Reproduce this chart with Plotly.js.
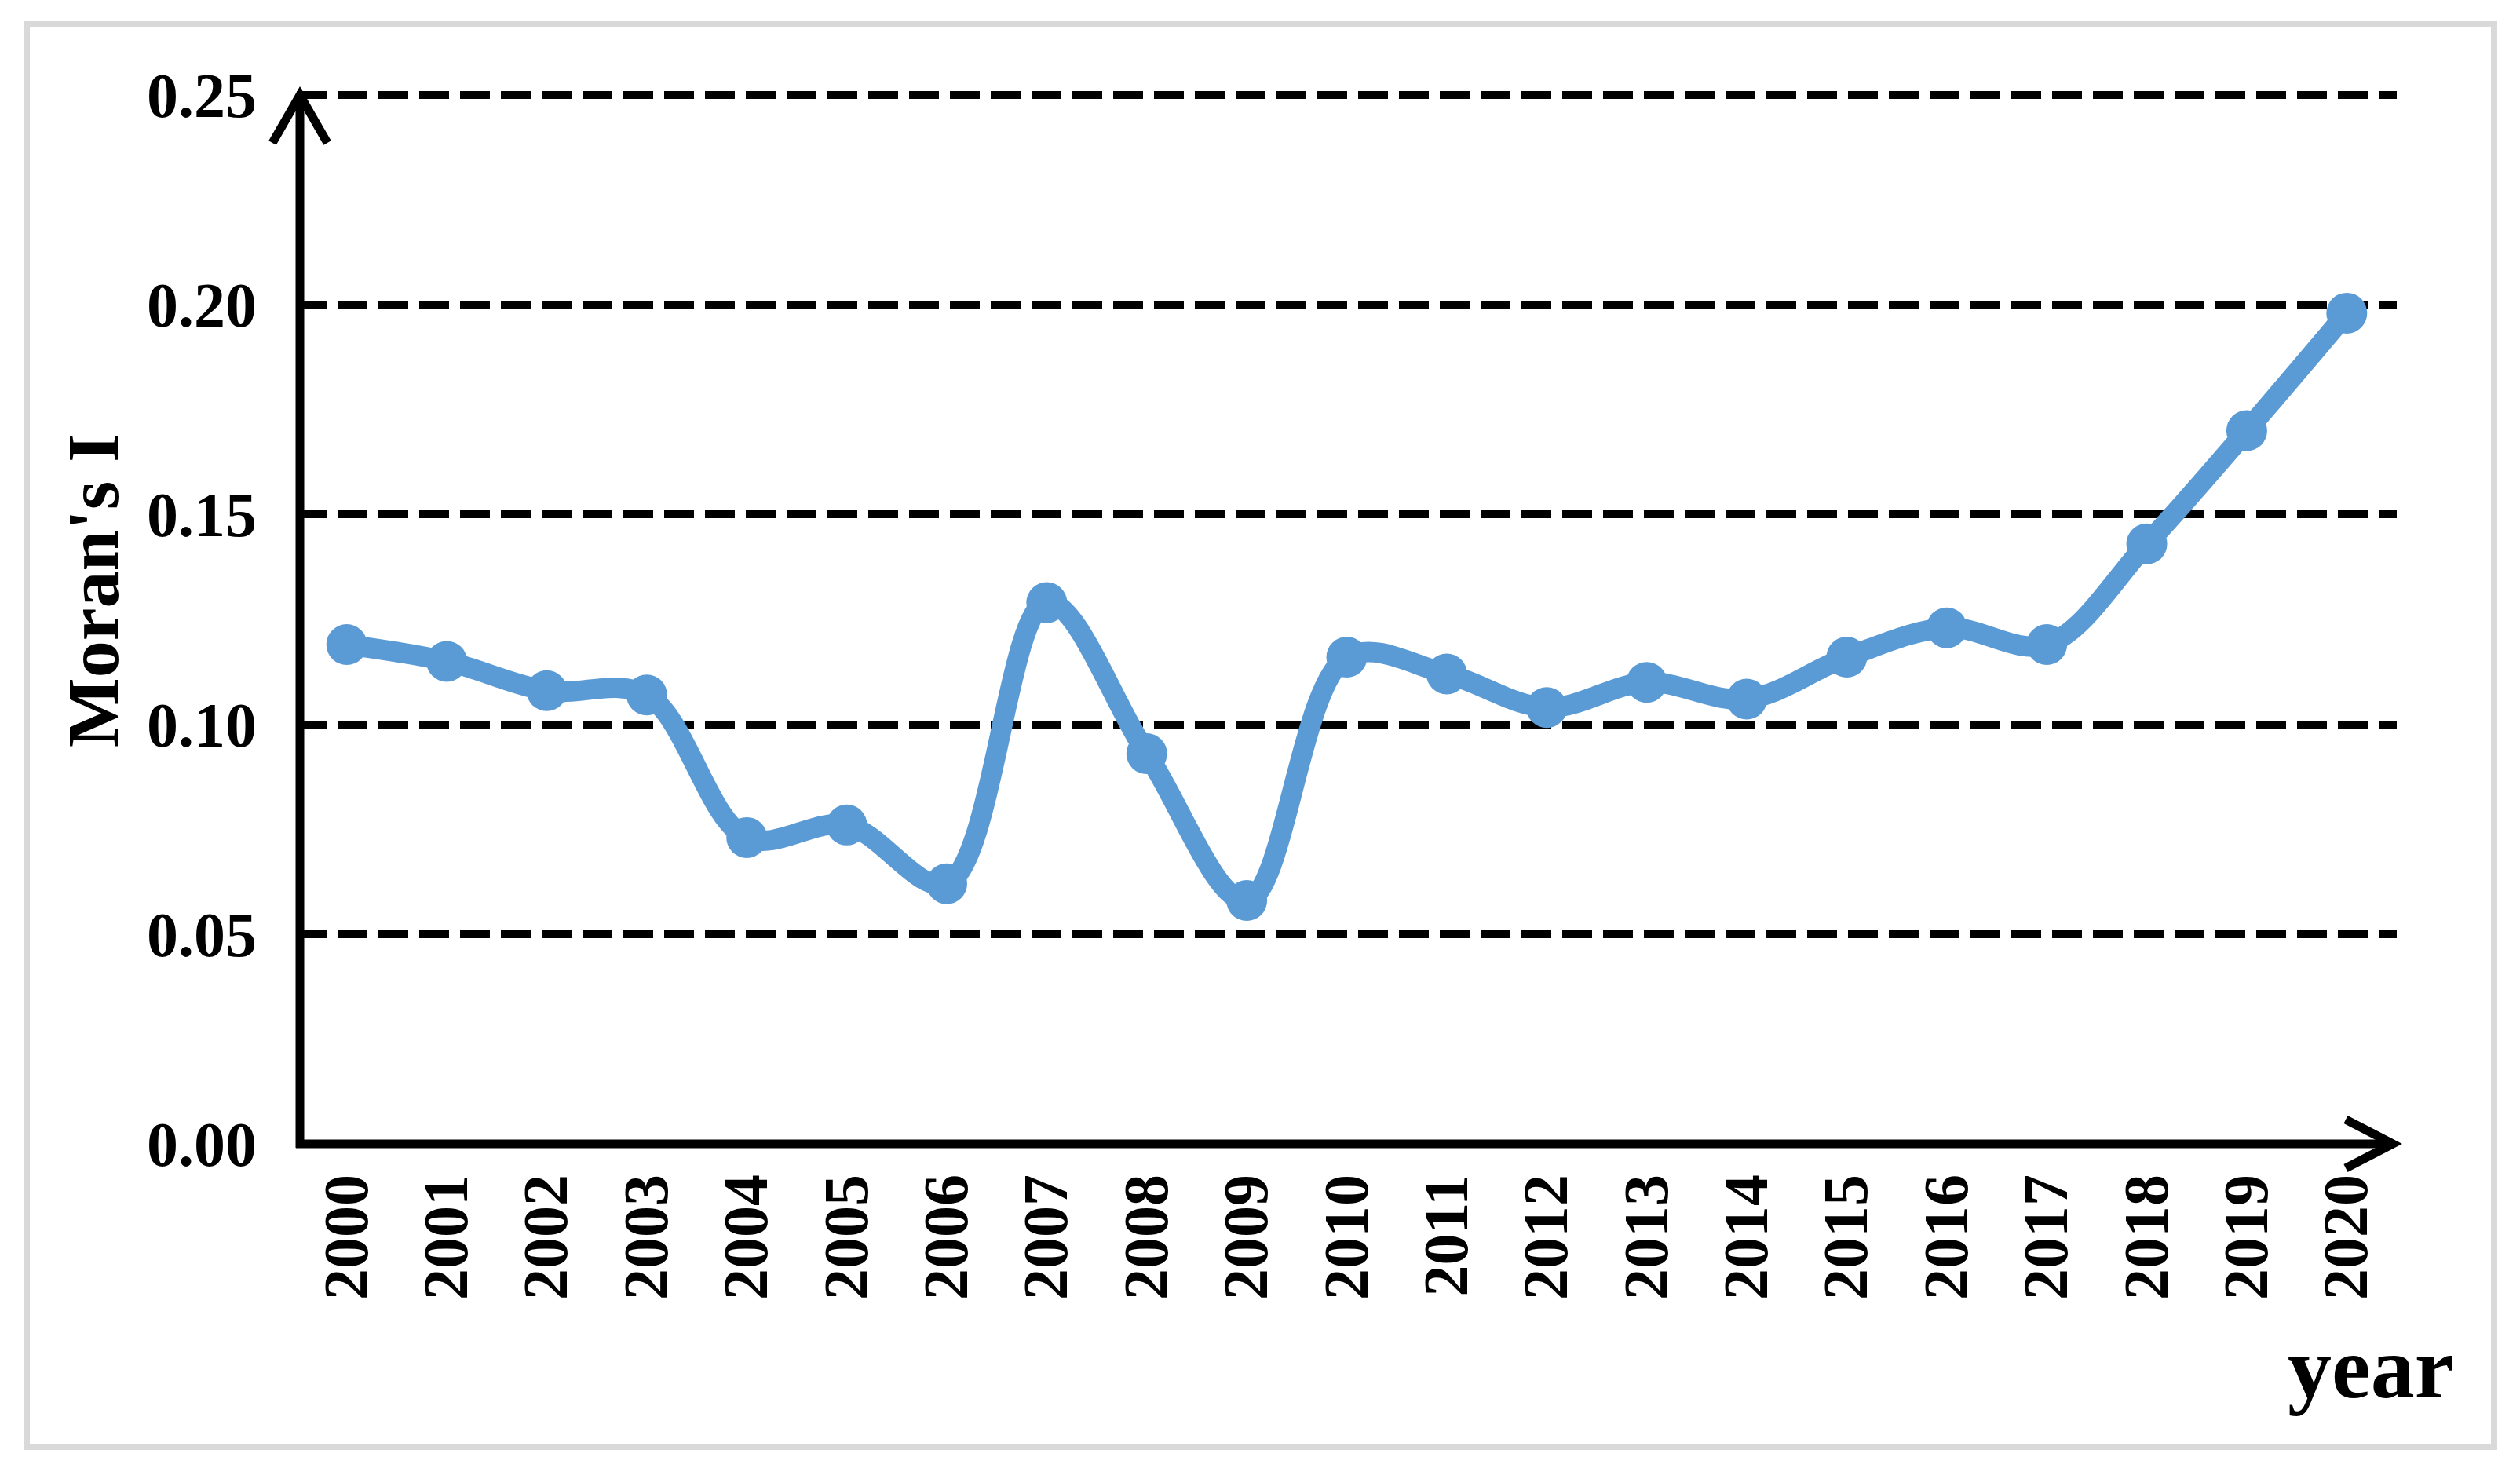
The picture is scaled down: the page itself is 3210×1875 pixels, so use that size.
<!DOCTYPE html>
<html>
<head>
<meta charset="utf-8">
<script src="https://cdn.plot.ly/plotly-3.0.1.min.js"></script>
<style>
  html, body { margin: 0; padding: 0; background: #ffffff; }
  #chart { width: 3210px; height: 1875px; }
</style>
</head>
<body>
<div id="chart"></div>
<script>
// ---- data ----
const years = ["2000","2001","2002","2003","2004","2005","2006","2007","2008","2009","2010",
               "2011","2012","2013","2014","2015","2016","2017","2018","2019","2020"];
const moransI = [0.119, 0.115, 0.108, 0.107, 0.073, 0.076, 0.062, 0.129, 0.093, 0.058, 0.116,
                 0.112, 0.104, 0.110, 0.106, 0.116, 0.123, 0.119, 0.143, 0.170, 0.198];
const yTickVals = [0, 0.05, 0.10, 0.15, 0.20, 0.25];
const yTickText = ["0.00", "0.05", "0.10", "0.15", "0.20", "0.25"];
const yTitle = "Moran's I";
const xTitle = "year";

// ---- layout geometry (pixels) ----
const W = 3210, H = 1875;
const L = 378, R = 3053, T = 116, B = 1457;
const px = x => (x - L) / (R - L);
const py = y => (B - y) / (B - T);
const pt = (x, y) => px(x).toFixed(5) + ',' + py(y).toFixed(5);

const FONT = "'Liberation Serif', 'Times New Roman', serif";

const trace = {
  x: years,
  y: moransI,
  type: 'scatter',
  mode: 'lines+markers',
  line: { color: '#5B9BD5', width: 26, shape: 'spline', smoothing: 1 },
  marker: { color: '#5B9BD5', size: 52 },
  cliponaxis: false,
  hoverinfo: 'skip'
};

const axisLine = { color: '#000000', width: 11 };

const layout = {
  width: W, height: H,
  paper_bgcolor: '#ffffff', plot_bgcolor: 'rgba(0,0,0,0)',
  margin: { l: L, r: W - R, t: T, b: H - B, pad: 0 },
  showlegend: false,
  xaxis: {
    type: 'category',
    range: [-0.5, years.length - 0.5],
    showgrid: false, zeroline: false, showline: false,
    ticks: '', tickangle: -90,
    ticklabelstandoff: 22,
    tickfont: { family: FONT, size: 80, color: '#000000', weight: 'bold' },
    fixedrange: true
  },
  yaxis: {
    range: [0, 0.25 * (B - T) / (B - 121)],
    tickvals: yTickVals, ticktext: yTickText,
    showgrid: true, gridcolor: '#000000', gridwidth: 10, griddash: '38px,14px',
    zeroline: false, showline: false, ticks: '',
    ticklabelstandoff: 50,
    tickfont: { family: FONT, size: 80, color: '#000000', weight: 'bold' },
    fixedrange: true
  },
  shapes: [
    // outer frame
    { type: 'rect', xref: 'paper', yref: 'paper',
      x0: px(34), x1: px(3177), y0: py(1843), y1: py(31),
      line: { color: '#d9d9d9', width: 8 }, fillcolor: 'rgba(0,0,0,0)', layer: 'below' },
    // y axis
    { type: 'line', xref: 'paper', yref: 'paper',
      x0: px(382), x1: px(382), y0: py(1462), y1: py(121), line: axisLine },
    // x axis
    { type: 'line', xref: 'paper', yref: 'paper',
      x0: px(377), x1: px(3048), y0: py(1457), y1: py(1457), line: axisLine },
    // arrow heads
    { type: 'path', xref: 'paper', yref: 'paper',
      path: 'M' + pt(347, 182) + ' L' + pt(382, 121) + ' L' + pt(417, 182),
      line: axisLine },
    { type: 'path', xref: 'paper', yref: 'paper',
      path: 'M' + pt(2988, 1426) + ' L' + pt(3048, 1457) + ' L' + pt(2988, 1488),
      line: axisLine }
  ],
  annotations: [
    { text: yTitle, xref: 'paper', yref: 'paper', x: px(118), y: py(752),
      xanchor: 'center', yanchor: 'middle', textangle: -90, showarrow: false,
      font: { family: FONT, size: 94, color: '#000000', weight: 'bold' } },
    { text: xTitle, xref: 'paper', yref: 'paper', x: px(3127), y: py(1742),
      xanchor: 'right', yanchor: 'middle', showarrow: false,
      font: { family: FONT, size: 112, color: '#000000', weight: 'bold' } }
  ]
};

Plotly.newPlot('chart', [trace], layout, { staticPlot: true, displayModeBar: false });
</script>
</body>
</html>
